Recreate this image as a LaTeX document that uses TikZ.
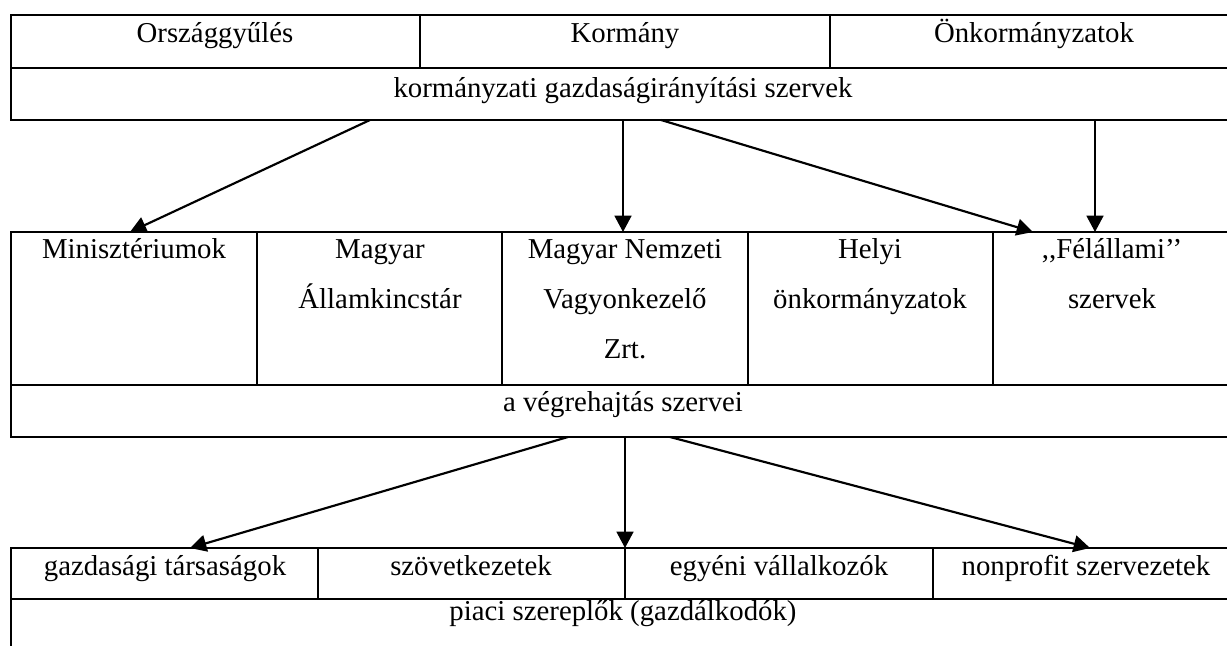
\documentclass[tikz,border=0pt]{standalone}
\usepackage{fontspec}
\setmainfont{Liberation Serif}
\usetikzlibrary{arrows.meta}
\newcommand{\cellrows}[1]{\begin{tabular}[t]{@{}c@{}}#1\end{tabular}}
\begin{document}
\begin{tikzpicture}[x=0.41667pt,y=-0.41667pt,
    every node/.style={anchor=base,inner sep=0pt,
      font=\fontsize{12}{20.8}\selectfont},
    grid/.style={line width=0.85pt}]
  \useasboundingbox (0,0) rectangle (1227,646);
  \begin{scope}
    \clip (0,0) rectangle (1227,646);
    \draw[grid] (11,15) rectangle (1240,120)
      (11,68) -- (1240,68) (420,15) -- (420,68) (830,15) -- (830,68);
    \draw[grid] (11,232) rectangle (1240,437)
      (11,385) -- (1240,385) (257,232) -- (257,385) (502,232) -- (502,385)
      (748,232) -- (748,385) (993,232) -- (993,385);
    \draw[grid] (11,548) rectangle (1240,670)
      (11,599) -- (1240,599) (318,548) -- (318,599) (625,548) -- (625,599)
      (933,548) -- (933,599);
  \end{scope}
  \draw
    (215,43) node (og){Országgyűlés}
    (625,43) node (korm){Kormány}
    (1034,43) node (onk){Önkormányzatok}
    (623,98) node (kgi){kormányzati gazdaságirányítási szervek}
    (134,259) node (min){Minisztériumok}
    (380,259) node (mak){\cellrows{Magyar\\Államkincstár}}
    (625,259) node (mnv){\cellrows{Magyar Nemzeti\\Vagyonkezelő\\Zrt.}}
    (870,259) node (helyi){\cellrows{Helyi\\önkormányzatok}}
    (1112,259) node (fel){\cellrows{{,}{,}Félállami’’\\szervek}}
    (623,412) node (vegr){a végrehajtás szervei}
    (165,576) node (gt){gazdasági társaságok}
    (471,576) node (szov){szövetkezetek}
    (779,576) node (egy){egyéni vállalkozók}
    (1086,576) node (np){nonprofit szervezetek}
    (623,621) node (piaci){piaci szereplők (gazdálkodók)};
  \coordinate (k1) at (370,120);
  \coordinate (k2) at (623,120);
  \coordinate (k3) at (661,120);
  \coordinate (k4) at (1095,120);
  \coordinate (m1) at (130,232);
  \coordinate (m2) at (623,232);
  \coordinate (m3) at (1033,232);
  \coordinate (m4) at (1095,232);
  \coordinate (v1) at (568,437);
  \coordinate (v2) at (625,437);
  \coordinate (v3) at (670,437);
  \coordinate (p1) at (190,548);
  \coordinate (p2) at (625,548);
  \coordinate (p3) at (1090,548);
  \begin{scope}[-{Triangle[length=6.8pt,width=7pt]},line width=0.9pt]
    \draw (k1) to (m1);
    \draw (k2) to (m2);
    \draw (k3) to (m3);
    \draw (k4) to (m4);
    \draw (v1) to (p1);
    \draw (v2) to (p2);
    \draw (v3) to (p3);
  \end{scope}
\end{tikzpicture}
\end{document}
